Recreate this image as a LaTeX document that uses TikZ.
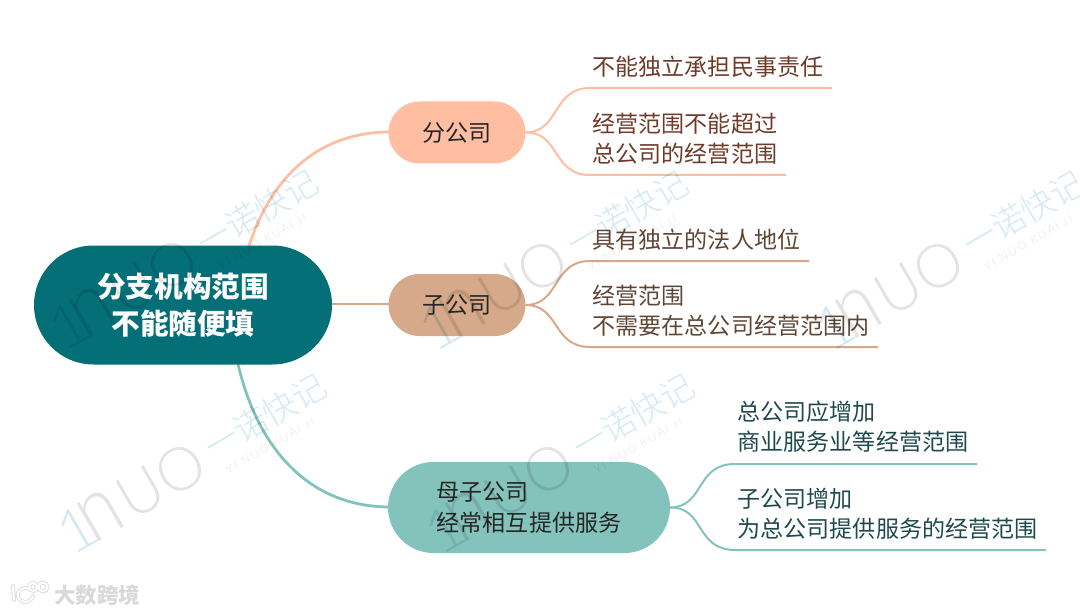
\documentclass[tikz,border=0pt]{standalone}
\usepackage{fontspec}
\setmainfont{Noto Sans CJK SC}
\newfontfamily\wmfont{Lato Light}
\newfontfamily\wmsmall[LetterSpace=18]{Lato Light}
\newfontfamily\wmcjk{Noto Sans CJK SC Light}
\usetikzlibrary{shapes.misc}
\definecolor{rootc}{HTML}{056F78}
\definecolor{fen}{HTML}{FFBDA1}
\definecolor{zi}{HTML}{D5A98A}
\definecolor{mu}{HTML}{84C3BB}
\definecolor{txtf}{HTML}{6F3A28}
\definecolor{txtz}{HTML}{5F4536}
\definecolor{txtm}{HTML}{1F4A4C}
\definecolor{wmb}{HTML}{D5E9F2}
\definecolor{wmg}{HTML}{E3E3E3}
\tikzset{
 topic/.style={rounded rectangle,minimum height=#1,inner sep=0pt,align=left,font=\fontsize{23.05}{30.5}\selectfont,text=black!85},
 rootnode/.style={rounded rectangle,fill=rootc,minimum width=298pt,minimum height=119pt,inner sep=0pt,align=center,text=white,font=\fontsize{28.6}{37}\selectfont\bfseries},
 leaf/.style={anchor=south west,inner sep=0pt,align=left,font=\fontsize{23.05}{30}\selectfont},
 link/.style={line width=2.8pt,line cap=round},
 sub/.style={line width=2pt},
 wmbig/.style={transform shape,anchor=base west,inner sep=0pt,font=\wmfont\fontsize{60}{60}\selectfont},
 wm/.pic={
  \node[wmbig,text=wmb] (n1) at (-15,0) {1};
  \node[wmbig,text=wmg,yscale=1.45,xscale=1.25] (n2) at (9,0) {n};
  \node[wmbig,text=wmg] (n3) at (55,0) {UO};
  \node[transform shape,anchor=west,inner sep=0pt,text=wmb,font=\wmcjk\fontsize{33.5}{33.5}\selectfont] (n4) at (155,-25) {一诺快记};
  \node[transform shape,anchor=west,inner sep=0pt,text=wmg,font=\wmsmall\fontsize{11.5}{12}\selectfont] (n5) at (162,3) {YI NUO KUAI JI};
 }
}
\begin{document}
\begin{tikzpicture}[x=1pt,y=-1pt]
\useasboundingbox (0,0) rectangle (1080,615);
\coordinate (rootout1) at (249,246);
\coordinate (rootout3) at (238,364);
\draw[link,fen] (rootout1) .. controls (272,175) and (320,132) .. (390,132);
\draw[link,zi] (332,304) -- (390,304);
\draw[link,mu] (rootout3) .. controls (258,450) and (310,507) .. (390,507);
\node[rootnode] (root) at (183,305) {分支机构范围\\不能随便填};
\node[topic=62pt,fill=fen,minimum width=137pt] (a) at (457,132.5) {分公司};
\node[topic=62pt,fill=zi,minimum width=137pt] (b) at (457,305) {子公司};
\node[topic=91pt,fill=mu,minimum width=282pt] (c) at (529,507.5) {母子公司\\经常相互提供服务};
% leaves
\node[leaf,text=txtf] (a1) at (592.5,78) {不能独立承担民事责任};
\node[leaf,text=txtf] (a2) at (592.5,165) {经营范围不能超过\\总公司的经营范围};
\node[leaf,text=txtz] (b1) at (592.5,251) {具有独立的法人地位};
\node[leaf,text=txtz] (b2) at (592.5,337) {经营范围\\不需要在总公司经营范围内};
\node[leaf,text=txtm] (c1) at (737.5,453) {总公司应增加\\商业服务业等经营范围};
\node[leaf,text=txtm] (c2) at (737.5,540) {子公司增加\\为总公司提供服务的经营范围};
\draw[sub,fen] (a.east) .. controls (560,132) and (552,88) .. (590,88) -- (832,88);
\draw[sub,fen] (a.east) .. controls (560,132) and (552,175) .. (590,175) -- (786,175);
\draw[sub,zi] (b.east) .. controls (560,305) and (552,261) .. (590,261) -- (809,261);
\draw[sub,zi] (b.east) .. controls (560,305) and (552,347) .. (590,347) -- (878,347);
\draw[sub,mu] (c.east) .. controls (705,507) and (695,464) .. (735,464) -- (977,464);
\draw[sub,mu] (c.east) .. controls (705,507) and (695,550) .. (735,550) -- (1046,550);
% watermarks
\begin{scope}[blend mode=multiply]
\foreach \dx/\dy in {0/0,-8/-204,368/0,362/-203,758/-203}
  \pic[rotate=30] at (85+\dx,549+\dy) {wm};
\end{scope}
% logo
\draw[line width=4pt,gray!25,line cap=round] (13,586) -- (14,600) (30,589) .. controls (18,584) and (12,600) .. (25,602) .. controls (29,602) and (32,599) .. (33,596) (33,587) circle (4) (43,587) circle (4.5);
\draw[line width=2pt,white,line cap=round] (13,586) -- (14,600) (30,589) .. controls (18,584) and (12,600) .. (25,602) .. controls (29,602) and (32,599) .. (33,596) (33,587) circle (4) (43,587) circle (4.5);
\node[anchor=west,inner sep=0pt,text=gray!30,font=\fontsize{21.5}{21.5}\selectfont\bfseries] (logo) at (54,595.5) {大数跨境};
\end{tikzpicture}
\end{document}
